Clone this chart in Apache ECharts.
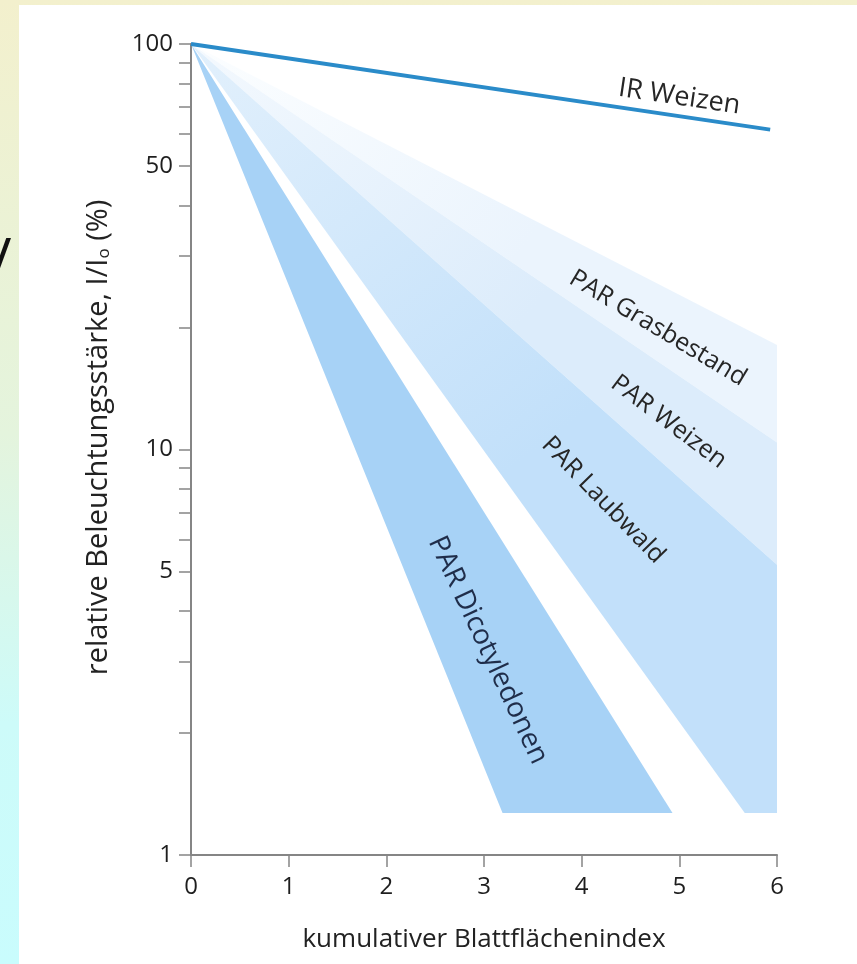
<!DOCTYPE html>
<html>
<head>
<meta charset="utf-8">
<script src="https://cdn.jsdelivr.net/npm/echarts@6/dist/echarts.min.js"></script>
<style>
  html, body { margin: 0; padding: 0; }
  body {
    width: 857px; height: 964px; overflow: hidden; position: relative;
    background: linear-gradient(180deg, #f3f0cd 0%, #e4f4dd 45%, #cdfbf9 75%, #c9fcfd 100%);
  }
  #panel { position: absolute; left: 19px; top: 5px; width: 838px; height: 959px; background: #fff; }
  #main { position: absolute; left: 0; top: 0; width: 857px; height: 964px; }
</style>
</head>
<body>
<div id="panel"></div>
<div id="main"></div>
<script>
// Achsen
const xMin = 0, xMax = 6;
const yLabelValues = [1, 5, 10, 50, 100];
const yTickValues = [1, 2, 3, 4, 5, 6, 7, 8, 9, 10, 20, 30, 40, 50, 60, 70, 80, 90, 100];

// IR Weizen (Linie)
const irWeizen = [[0, 100], [5.93, 61.5]];

// PAR-Fächer, Eckpunkte [Blattflächenindex, I/I0 %]
const parGras = [[0, 100], [6, 18.1], [6, 10.4]];
const parWeizen = [[0, 100], [6, 10.4], [6, 5.2]];
const parLaubwald = [[0, 100], [6, 5.2], [6, 1.27], [5.67, 1.27]];
const parDicot = [[0, 100], [4.93, 1.27], [3.19, 1.27]];

// Beschriftungen
const labelTexts = ['IR Weizen', 'PAR Grasbestand', 'PAR Weizen', 'PAR Laubwald', 'PAR Dicotyledonen'];
const labelAnchors = [[5.0, 74.0], [4.78, 19.9], [4.89, 11.7], [4.22, 7.5], [3.04, 3.2]];
const labelAngles = [-8.5, -31, -37, -46, -65];
const labelSizes = [27, 25, 25, 25, 28];

const FONT = '"Open Sans", "Noto Sans", sans-serif';

const chart = echarts.init(document.getElementById('main'));

// Polygon aus Eckpunkten über die Achsen zeichnen
const bandSeries = (name, verts, fill) => ({
  name: name,
  type: 'custom',
  coordinateSystem: 'cartesian2d',
  silent: true,
  z: 1,
  data: verts,
  renderItem: (params, api) => {
    if (params.dataIndex !== 0) return null;
    return {
      type: 'polygon',
      shape: { points: verts.map(v => api.coord(v)) },
      style: { fill: fill }
    };
  }
});

const grad = (c0, c1) => new echarts.graphic.LinearGradient(0, 0, 1, 1, [
  { offset: 0, color: c0 },
  { offset: 0.55, color: c1 },
  { offset: 1, color: c1 }
]);

const option = {
  animation: false,
  grid: { left: 191, right: 80, top: 44, bottom: 109, containLabel: false },
  xAxis: {
    type: 'value',
    min: xMin, max: xMax, interval: 1,
    name: 'kumulativer Blattflächenindex',
    nameLocation: 'middle',
    nameGap: 72,
    nameTextStyle: { fontSize: 26, color: '#222', fontFamily: FONT },
    axisLine: { lineStyle: { color: '#858585', width: 2 } },
    axisTick: { length: 12, lineStyle: { color: '#858585', width: 1.5 } },
    axisLabel: { fontSize: 24, color: '#1e1e1e', fontFamily: FONT, margin: 20 },
    splitLine: { show: false }
  },
  yAxis: {
    type: 'log',
    logBase: 10,
    min: 1, max: 100,
    name: '{a|relative Beleuchtungsstärke, I/I}{s|o}{a| (%)}',
    nameLocation: 'middle',
    nameGap: 78,
    nameRotate: 90,
    nameTextStyle: {
      color: '#222', fontFamily: FONT, fontSize: 29,
      padding: [0, 0, 0, 24],
      rich: {
        a: { fontSize: 29, color: '#222', fontFamily: FONT, verticalAlign: 'bottom' },
        s: { fontSize: 17, color: '#222', fontFamily: FONT, verticalAlign: 'bottom' }
      }
    },
    axisLine: { show: true, lineStyle: { color: '#858585', width: 2 } },
    axisTick: { show: true, length: 12, customValues: yTickValues, lineStyle: { color: '#858585', width: 1.5 } },
    axisLabel: { fontSize: 24, color: '#1e1e1e', fontFamily: FONT, margin: 18, customValues: yLabelValues },
    minorTick: { show: false },
    splitLine: { show: false }
  },
  graphic: [
    { type: 'text', left: -19, top: 234, style: { text: 'V', fontSize: 50, fill: '#111', fontFamily: '"Noto Sans", sans-serif' } }
  ],
  series: [
    bandSeries('PAR Grasbestand', parGras, grad('#fcfeff', '#ebf4fd')),
    bandSeries('PAR Weizen', parWeizen, grad('#f4f9fe', '#dcecfb')),
    bandSeries('PAR Laubwald', parLaubwald, grad('#e2f0fc', '#c2e0fa')),
    bandSeries('PAR Dicotyledonen', parDicot, '#a7d2f6'),
    {
      name: 'IR Weizen',
      type: 'line',
      data: irWeizen,
      symbol: 'none',
      z: 3,
      lineStyle: { color: '#2a8bc9', width: 4 }
    },
    {
      name: 'Beschriftung',
      type: 'custom',
      coordinateSystem: 'cartesian2d',
      silent: true,
      z: 4,
      data: labelAnchors,
      renderItem: (params, api) => {
        const p = api.coord([api.value(0), api.value(1)]);
        const i = params.dataIndex;
        return {
          type: 'text',
          x: p[0], y: p[1],
          rotation: labelAngles[i] * Math.PI / 180,
          style: {
            text: labelTexts[i],
            fill: i === 4 ? '#1f2d4a' : '#262626',
            fontSize: labelSizes[i],
            fontFamily: FONT,
            align: 'center',
            verticalAlign: 'middle'
          }
        };
      }
    }
  ]
};

chart.setOption(option);
window.addEventListener('resize', () => {
  chart.resize();
});
</script>
</body>
</html>
